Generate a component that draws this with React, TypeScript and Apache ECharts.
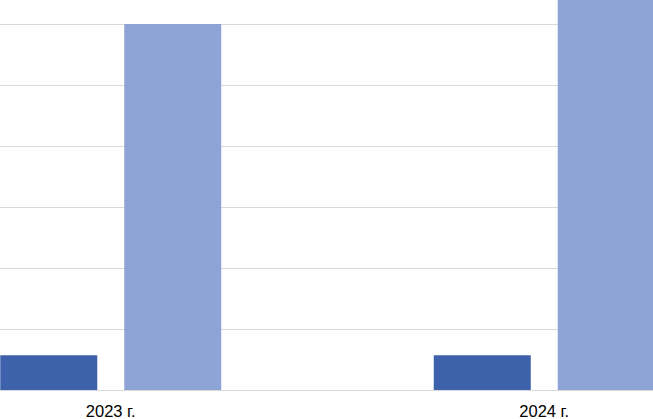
import React, { useEffect, useRef } from "react";
import * as echarts from "echarts";

const categories = ["2023 г.", "2024 г."];
const seriesA = [0.57, 0.57];
const seriesB = [6, 7];

export default function App() {
  const ref = useRef<HTMLDivElement>(null);
  useEffect(() => {
    if (!ref.current) return;
    const chart = echarts.init(ref.current, null, { renderer: "svg" });
    chart.setOption({
      animation: false,
      grid: { left: 0, right: 0, top: 0, bottom: 27, containLabel: false },
      xAxis: {
        type: "category",
        data: categories,
        axisLine: { lineStyle: { color: "#D9D9D9", width: 1 } },
        axisTick: { show: false },
        axisLabel: { color: "#000", fontSize: 16.5, fontFamily: "Liberation Sans, Arial", margin: 12 },
      },
      yAxis: {
        type: "value",
        min: 0,
        max: 7,
        interval: 1,
        axisLabel: { show: false },
        axisLine: { show: false },
        axisTick: { show: false },
        splitLine: { lineStyle: { color: "#D9D9D9", width: 1 } },
      },
      series: [
        { type: "bar", data: seriesA, barWidth: 97, barGap: "27.8%", itemStyle: { color: "#3D61AA" } },
        { type: "bar", data: seriesB, barWidth: 97, itemStyle: { color: "#8FA4D6" } },
      ],
    });
    return () => chart.dispose();
  }, []);
  return (
    <div style={{ width: 653, height: 419, position: "absolute", left: 0, top: 0, overflow: "hidden" }}>
      <div ref={ref} style={{ width: 866.5, height: 456.3, position: "absolute", left: -106.5, top: -37.3 }} />
    </div>
  );
}
